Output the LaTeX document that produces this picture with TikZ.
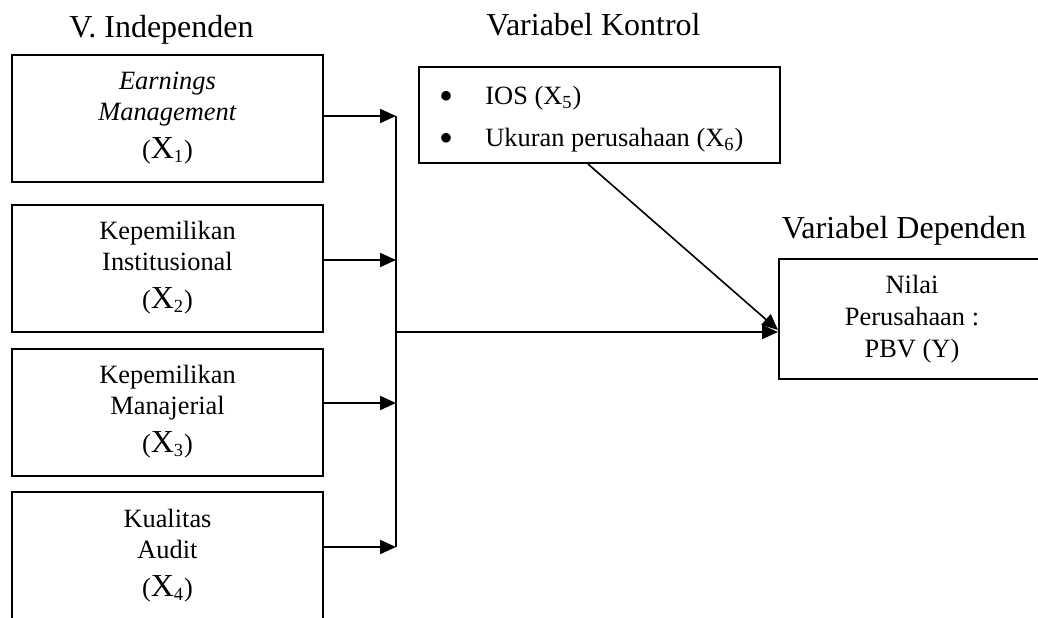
\documentclass[tikz,border=0pt]{standalone}
\usepackage{fontspec}
\setmainfont{Liberation Serif}
\usetikzlibrary{arrows.meta,calc}
\begin{document}
\begin{tikzpicture}[x=0.5pt,y=-0.5pt]
\tikzset{
 lbl/.style={font=\fontsize{16}{19}\selectfont, inner sep=0pt, anchor=base},
 box/.style={draw, line width=1pt, minimum width=155.5pt, minimum height=63.5pt, inner sep=0pt, align=center, font=\fontsize{13.2}{15.5}\selectfont},
 conn/.style={line width=1pt, -{Triangle[length=8pt,width=7pt]}},
 link/.style={line width=1pt},
}
\newcommand{\bigX}[1]{({\fontsize{16}{16}\selectfont X}\textsubscript{#1})}
\newcommand{\bigbul}{\raisebox{-2.5pt}{\fontsize{20}{20}\selectfont\textbullet}}
\useasboundingbox (0,0) rectangle (1038,617);

% titles
\node[lbl] (t1) at (161.5,37) {V. Independen};
\node[lbl] (t2) at (593.5,35) {Variabel Kontrol};
\node[lbl] (t3) at (904,238) {Variabel Dependen};

% independent boxes
\node[box] (b1) at (167.5,118.5) {\textit{Earnings}\\\textit{Management}\\[3.5pt]\bigX{1}};
\node[box] (b2) at (167.5,268) {Kepemilikan\\Institusional\\[3.5pt]\bigX{2}};
\node[box] (b3) at (167.5,412) {Kepemilikan\\Manajerial\\[3.5pt]\bigX{3}};
\node[box, minimum height=64pt] (b4) at (167.5,556) {Kualitas\\Audit\\[3.5pt]\bigX{4}};

% control box
\node[draw, line width=1pt, minimum width=180.5pt, minimum height=48pt, inner sep=0pt] (K) at (599.5,115) {};
\node[anchor=west, inner sep=0pt, align=left, font=\fontsize{13.2}{21}\selectfont] (Kt) at (439,119)
  {\bigbul\hspace{16pt}IOS (X\textsubscript{5})\\\bigbul\hspace{16pt}Ukuran perusahaan (X\textsubscript{6})};

% dependent box
\node[draw, line width=1pt, minimum width=133pt, minimum height=60pt, inner sep=0pt, align=center, font=\fontsize{13.2}{16}\selectfont] (Y) at (912,319) {Nilai\\Perusahaan :\\PBV (Y)};

% junctions
\coordinate (j1) at (396,116);
\coordinate (j2) at (396,260);
\coordinate (j3) at (396,403);
\coordinate (j4) at (396,547);
\coordinate (jm) at (396,332);

\draw[conn] (b1.east |- j1) -- (j1);
\draw[conn] (b2.east |- j2) -- (j2);
\draw[conn] (b3.east |- j3) -- (j3);
\draw[conn] (b4.east |- j4) -- (j4);
\draw[link] (j1) -- (j4);
\draw[conn] (jm) -- (jm -| Y.west);
\draw[line width=0.8pt, -{Triangle[length=8pt,width=7pt]}] ($(K.south)+(-11.5,0)$) -- ($(Y.west)+(0,11)$);
\end{tikzpicture}
\end{document}
